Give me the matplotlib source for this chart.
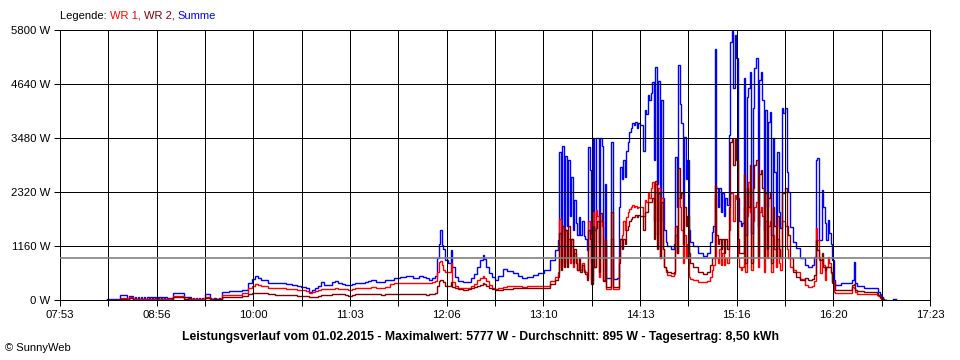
import matplotlib
matplotlib.use("Agg")
import matplotlib.pyplot as plt
import numpy as np

plt.rcParams["font.family"] = ["Liberation Sans", "DejaVu Sans"]

# time of each reading in minutes after midnight, power in W
times = [
    504, 508, 512, 513, 516, 517, 518, 521,
    522, 523, 524, 525, 526, 527, 528, 529, 530, 531, 532, 533, 534, 535,
    536, 537, 538, 539, 540, 541, 542, 543, 544, 547, 551, 554, 557,
    559, 560, 561, 562, 563, 564, 565, 566, 567, 568, 571, 572, 574, 575, 577, 578,
    579, 584, 588, 592, 596, 599, 601, 603, 605, 609, 614, 618, 621, 625, 628,
    631, 634, 636, 638, 640, 642, 644, 646, 648, 651, 653, 655, 658, 660, 662,
    664, 666, 669, 673, 675, 677, 680, 683, 686, 689, 692, 696, 700, 704, 708,
    711, 713, 715, 717, 719, 720, 721, 722, 723, 724, 725, 727, 729, 730, 732,
    734, 737, 740, 742, 744, 746, 748, 750, 751, 752, 754, 756, 758, 760, 763,
    766, 770, 773, 776, 779, 783, 786, 790, 794, 797, 799,
    800, 801, 802, 803, 804, 805, 806, 807, 808, 809, 810, 811, 812, 813, 814,
    815, 816, 817, 818, 819, 820, 821, 822, 823, 824, 825, 826, 827, 828, 829,
    830, 831, 834, 835, 838, 839, 840, 841, 842, 843, 844, 845, 846, 847, 848,
    849, 850, 851, 852, 853, 855, 856, 857, 858, 859, 860, 861, 862, 863, 864,
    865, 866, 867, 868, 869, 870, 871, 873, 875, 876, 877, 878, 879, 880, 881,
    882, 883, 884, 885, 886, 888, 891, 894, 897, 899, 900, 901, 902, 903, 904,
    905, 906, 907, 908, 909, 910, 911, 912, 913, 914, 915, 916, 917, 918, 919,
    920, 921, 922, 923, 924, 925, 926, 927, 928, 929, 930, 931, 932, 933, 934,
    935, 936, 937, 938, 939, 940, 941, 942, 943, 944, 945, 946, 947, 948, 949,
    950, 951, 953, 955, 958, 961, 963, 966, 967, 968, 969, 970, 971, 972, 973,
    974, 975, 976, 977, 978, 979, 980, 981, 985, 992, 993, 994, 995, 1000, 1008,
    1009, 1010, 1011, 1012, 1013, 1014, 1019, 1021,
]
wr1 = [
    8, 10, 30, 40, 50, 20, 60, 20,
    15, 15, 15, 15, 15, 15, 15, 15, 15, 15, 15, 15, 15, 15,
    15, 15, 15, 15, 15, 15, 15, 15, 20, 80, 90, 30, 30,
    15, 15, 15, 15, 15, 15, 15, 15, 15, 60, 30, 30, 30, 30, 30, 30,
    100, 110, 110, 150, 250, 310, 340, 320, 300, 265, 255, 250, 240, 230, 225,
    215, 200, 160, 180, 200, 220, 240, 235, 230, 245, 250, 245, 245, 230, 210,
    240, 250, 255, 260, 265, 270, 265, 260, 290, 344, 360, 370, 372, 365, 372,
    375, 360, 370, 380, 400, 600, 820, 830, 750, 650, 608, 600, 788, 394, 300,
    250, 255, 251, 300, 350, 430, 480, 515, 480, 400, 320, 260, 240, 260, 290,
    300, 296, 295, 290, 295, 300, 305, 310, 400, 500, 594,
    1750, 700, 1600, 800, 1500, 900, 1300, 800, 1300, 700, 1000, 900, 640, 800, 650,
    800, 640, 600, 500, 1700, 1400, 430, 1900, 700, 1930, 1800, 500, 1700, 1600, 430,
    1200, 230, 1300, 230, 240, 900, 1300, 1400, 1700, 1500, 1790, 1900, 1950, 2000, 2040,
    2000, 2010, 1970, 2000, 1990, 1800, 2150, 2100, 2300, 2200, 2400, 2535, 1700, 2500, 1400,
    2400, 900, 2200, 1100, 700, 600, 540, 515, 560, 1400, 1000, 2200, 2000, 1500, 800,
    1400, 900, 1200, 500, 450, 430, 390, 382, 400, 500, 645, 750, 2255, 900, 800,
    1100, 750, 1000, 760, 900, 800, 1500, 2290, 2300, 1700, 2250, 2180, 900, 700, 650,
    700, 2000, 600, 1800, 2535, 1900, 650, 1700, 2000, 2100, 700, 1900, 2000, 1800, 600,
    1700, 900, 1600, 1700, 600, 1400, 1100, 700, 1300, 800, 650, 1700, 1700, 1600, 1100,
    900, 700, 650, 600, 450, 322, 286, 300, 400, 1540, 1289, 859, 573, 900, 750,
    430, 716, 930, 788, 573, 400, 179, 143, 143, 286, 250, 179, 120, 120, 110,
    80, 50, 30, 15, 0, np.nan, np.nan, np.nan,
]
wr2 = [
    5, 5, 20, 30, 30, 10, 40, 10,
    8, 8, 8, 8, 8, 8, 8, 8, 8, 8, 8, 8, 8, 8,
    8, 8, 8, 8, 8, 8, 8, 8, 10, 60, 60, 20, 40,
    10, 10, 10, 10, 10, 10, 10, 10, 10, 40, 20, 20, 20, 20, 20, 20,
    60, 70, 70, 80, 120, 140, 157, 150, 140, 122, 118, 115, 110, 100, 95,
    86, 80, 70, 65, 65, 80, 100, 110, 110, 120, 125, 120, 120, 100, 90,
    110, 120, 125, 130, 130, 135, 130, 110, 120, 122, 120, 120, 125, 120, 125,
    122, 118, 120, 130, 150, 300, 400, 430, 430, 380, 300, 300, 394, 280, 250,
    229, 225, 229, 250, 270, 300, 330, 358, 340, 300, 260, 240, 215, 225, 240,
    245, 250, 250, 255, 252, 255, 258, 262, 350, 420, 500,
    1440, 650, 1600, 700, 1500, 700, 1600, 900, 1300, 800, 1100, 800, 650, 900, 600,
    750, 600, 550, 430, 1500, 1300, 350, 1600, 700, 1550, 1700, 600, 1860, 1700, 400,
    1300, 270, 1900, 270, 280, 800, 1300, 1100, 1300, 1200, 1500, 1600, 1700, 1750, 1780,
    1790, 1820, 1780, 1830, 1800, 1500, 1900, 1900, 2100, 2100, 2100, 2200, 1300, 2550, 1100,
    2300, 900, 2100, 1100, 700, 650, 600, 587, 600, 1600, 1000, 2830, 2200, 2300, 1200,
    2000, 1600, 1800, 1000, 800, 700, 610, 558, 600, 750, 895, 900, 2470, 1400, 1200,
    1300, 1100, 1300, 1000, 1300, 1100, 2000, 3400, 3460, 2900, 3450, 3000, 1300, 1000, 1000,
    1000, 2700, 800, 2400, 2000, 2900, 800, 2400, 2900, 3000, 900, 2700, 2800, 2400, 900,
    2300, 1100, 2200, 2300, 800, 2000, 1600, 900, 1800, 1100, 900, 2300, 2300, 2400, 1600,
    1400, 900, 600, 500, 430, 466, 430, 450, 530, 1289, 1074, 931, 859, 1000, 716,
    644, 716, 716, 716, 600, 358, 358, 215, 215, 322, 340, 215, 190, 165, 150,
    100, 70, 40, 15, 0, np.nan, np.nan, np.nan,
]
summe = [
    15, 20, 107, 100, 100, 30, 80, 20,
    70, 15, 70, 15, 70, 15, 70, 15, 70, 15, 70, 15, 70, 15,
    70, 15, 70, 15, 70, 15, 70, 15, 40, 140, 150, 60, 70,
    15, 50, 15, 50, 15, 50, 15, 50, 15, 120, 40, 15, 50, 15, 50, 15,
    170, 190, 190, 215, 360, 450, 515, 480, 430, 360, 370, 358, 350, 330, 300,
    280, 260, 180, 220, 250, 300, 390, 330, 320, 380, 410, 360, 350, 330, 320,
    350, 360, 370, 380, 400, 420, 390, 380, 440, 430, 470, 500, 510, 480, 520,
    500, 470, 430, 470, 520, 900, 1200, 1500, 1180, 1100, 860, 790, 1074, 716, 500,
    400, 394, 394, 466, 560, 716, 850, 967, 880, 716, 580, 500, 430, 520, 666,
    620, 573, 520, 466, 500, 537, 580, 644, 859, 1074, 1290,
    3190, 1400, 3300, 1500, 3100, 1600, 3000, 1800, 2650, 1500, 2150, 1650, 1400, 1790, 1400,
    1700, 1380, 1300, 1070, 3290, 2800, 800, 3480, 1500, 3480, 3480, 1200, 3480, 3300, 900,
    2500, 480, 3400, 460, 480, 2000, 2860, 2600, 3000, 2650, 3200, 3400, 3600, 3700, 3800,
    3760, 3820, 3700, 3800, 3760, 3200, 4080, 4000, 4400, 4300, 4450, 4690, 3000, 5010, 2500,
    4700, 1700, 4300, 2200, 1500, 1250, 1150, 1100, 1200, 3080, 2000, 5050, 4200, 3800, 2000,
    3500, 2600, 3000, 1500, 1250, 1150, 1000, 945, 1000, 1250, 1467, 1600, 5400, 2400, 2000,
    2400, 1900, 2300, 1800, 2200, 2040, 3540, 5550, 5780, 4550, 5700, 5200, 2200, 1700, 1600,
    1650, 4760, 1400, 4370, 4550, 4900, 1450, 4120, 4976, 5190, 1600, 4726, 4904, 4296, 1500,
    4081, 2000, 3830, 4045, 1400, 3473, 2756, 1600, 3186, 1897, 1550, 4117, 4010, 4117, 2756,
    2327, 1575, 1252, 1110, 895, 752, 716, 750, 930, 3007, 3043, 1289, 1289, 2363, 2005,
    1650, 1290, 1718, 1432, 1200, 859, 430, 322, 358, 430, 823, 358, 308, 250, 250,
    179, 129, 72, 15, 0, np.nan, 15, 15,
]

x_ticks = [473, 536.33, 599.67, 663, 726.33, 789.67, 853, 916.33, 979.67, 1043]
x_tick_labels = ["07:53", "08:56", "10:00", "11:03", "12:06",
                 "13:10", "14:13", "15:16", "16:20", "17:23"]
y_ticks = [0, 1160, 2320, 3480, 4640, 5800]
y_tick_labels = ["0 W", "1160 W", "2320 W", "3480 W", "4640 W", "5800 W"]
average = 895

title = ("Leistungsverlauf vom 01.02.2015 - Maximalwert: 5777 W - "
         "Durchschnitt: 895 W - Tagesertrag: 8,50 kWh")

PX = 0.72  # one pixel in points at 100 dpi

fig = plt.figure(figsize=(9.6, 3.6), dpi=100)
ax = fig.add_axes([60 / 960, 60 / 360, 870 / 960, 270 / 360])

for values, color in [(summe, "#0000ff"), (wr1, "#ff0000"), (wr2, "#800000")]:
    ax.plot(times, values, color=color, lw=1.0, drawstyle="steps-post",
            solid_joinstyle="miter")
ax.axhline(average, color="#808080", lw=1.2, zorder=3)

ax.set_xlim(x_ticks[0], x_ticks[-1])
ax.set_ylim(y_ticks[0], y_ticks[-1])

# grid lines every half label step, labels only on every second one
grid_x = np.linspace(x_ticks[0], x_ticks[-1], 19)
grid_labels = [x_tick_labels[i // 2] if i % 2 == 0 else "" for i in range(19)]
ax.set_xticks(grid_x)
ax.set_xticklabels(grid_labels)
ax.set_yticks(y_ticks)
ax.set_yticklabels(y_tick_labels)
ax.grid(True, color="black", lw=PX, antialiased=False)
ax.set_axisbelow(False)
ax.tick_params(axis="both", length=4, width=PX, color="black", labelsize=8.2, pad=3)
for side in ["left", "right", "top", "bottom"]:
    ax.spines[side].set_linewidth(PX)
    ax.spines[side].set_antialiased(False)

fig.text(480 / 960, 1 - 337 / 360, title, ha="center", va="center",
         fontsize=8.8, fontweight="bold")
fig.text(5 / 960, 1 - 348 / 360, "\u00a9 SunnyWeb", ha="left", va="center", fontsize=8)

# multi-colour legend line at the top
renderer = fig.canvas.get_renderer()
x_pos = 60
for part, color in [("Legende: ", "black"), ("WR 1, ", "#ff0000"),
                    ("WR 2, ", "#800000"), ("Summe", "#0000ff")]:
    txt = fig.text(x_pos / 960, 1 - 16 / 360, part, ha="left", va="center",
                   fontsize=8, color=color)
    x_pos += txt.get_window_extent(renderer).width

fig.savefig("out.png", dpi=100)
